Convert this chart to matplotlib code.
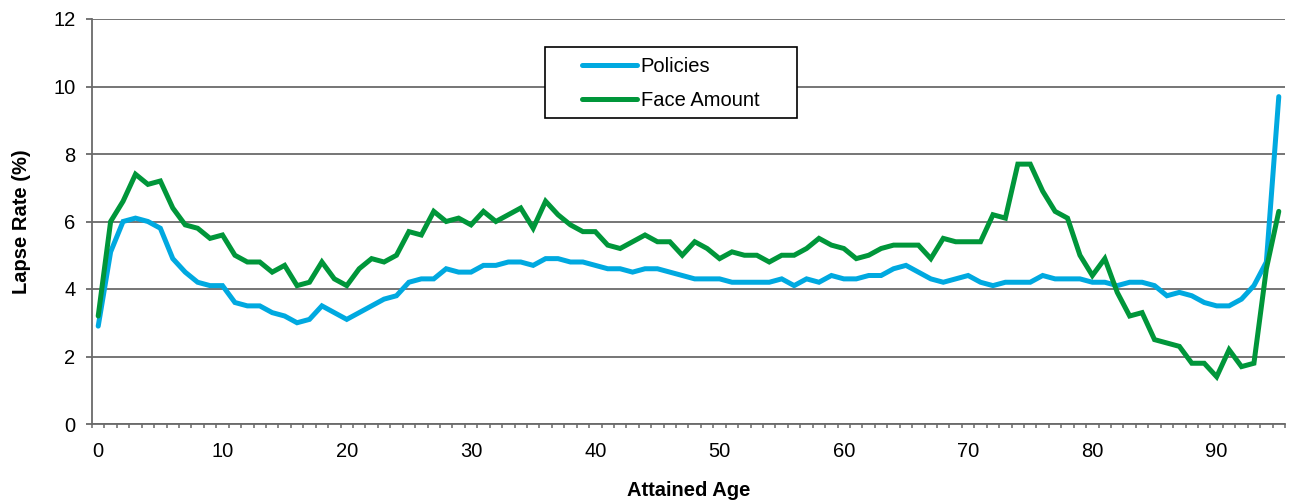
import matplotlib
matplotlib.use("Agg")
import matplotlib.pyplot as plt
from matplotlib.patches import Rectangle
from matplotlib.ticker import MultipleLocator

plt.rcParams['font.family'] = ['Liberation Sans', 'DejaVu Sans']

# Data
ages = list(range(96))
policies = [2.9, 5.1, 6.0, 6.1, 6.0, 5.8, 4.9, 4.5, 4.2, 4.1,
            4.1, 3.6, 3.5, 3.5, 3.3, 3.2, 3.0, 3.1, 3.5, 3.3,
            3.1, 3.3, 3.5, 3.7, 3.8, 4.2, 4.3, 4.3, 4.6, 4.5,
            4.5, 4.7, 4.7, 4.8, 4.8, 4.7, 4.9, 4.9, 4.8, 4.8,
            4.7, 4.6, 4.6, 4.5, 4.6, 4.6, 4.5, 4.4, 4.3, 4.3,
            4.3, 4.2, 4.2, 4.2, 4.2, 4.3, 4.1, 4.3, 4.2, 4.4,
            4.3, 4.3, 4.4, 4.4, 4.6, 4.7, 4.5, 4.3, 4.2, 4.3,
            4.4, 4.2, 4.1, 4.2, 4.2, 4.2, 4.4, 4.3, 4.3, 4.3,
            4.2, 4.2, 4.1, 4.2, 4.2, 4.1, 3.8, 3.9, 3.8, 3.6,
            3.5, 3.5, 3.7, 4.1, 4.8, 9.7]
face_amount = [3.2, 6.0, 6.6, 7.4, 7.1, 7.2, 6.4, 5.9, 5.8, 5.5,
               5.6, 5.0, 4.8, 4.8, 4.5, 4.7, 4.1, 4.2, 4.8, 4.3,
               4.1, 4.6, 4.9, 4.8, 5.0, 5.7, 5.6, 6.3, 6.0, 6.1,
               5.9, 6.3, 6.0, 6.2, 6.4, 5.8, 6.6, 6.2, 5.9, 5.7,
               5.7, 5.3, 5.2, 5.4, 5.6, 5.4, 5.4, 5.0, 5.4, 5.2,
               4.9, 5.1, 5.0, 5.0, 4.8, 5.0, 5.0, 5.2, 5.5, 5.3,
               5.2, 4.9, 5.0, 5.2, 5.3, 5.3, 5.3, 4.9, 5.5, 5.4,
               5.4, 5.4, 6.2, 6.1, 7.7, 7.7, 6.9, 6.3, 6.1, 5.0,
               4.4, 4.9, 3.9, 3.2, 3.3, 2.5, 2.4, 2.3, 1.8, 1.8,
               1.4, 2.2, 1.7, 1.8, 4.6, 6.3]
series_names = ["Policies", "Face Amount"]
series_colors = ["#00A9E0", "#00963A"]

grid_color = "#6a6a6a"
fs = 14.5

fig = plt.figure(figsize=(12.89, 5.01), dpi=100)
ax = fig.add_axes([92 / 1289, 1 - 424 / 501, 1193 / 1289, 405 / 501])

for vals, name, col in zip([policies, face_amount], series_names, series_colors):
    ax.plot(ages, vals, color=col, lw=3.6, label=name, solid_capstyle='round',
            solid_joinstyle='miter', zorder=3)

ax.set_xlim(-0.5, 95.5)
ax.set_ylim(0, 12)
ax.yaxis.set_major_locator(MultipleLocator(2))
ax.xaxis.set_major_locator(MultipleLocator(10))
ax.xaxis.set_minor_locator(MultipleLocator(1, offset=0.5))
ax.grid(axis='y', color=grid_color, lw=1.3, zorder=1)
ax.set_axisbelow(True)

for s in ['top', 'right']:
    ax.spines[s].set_visible(False)
for s in ['left', 'bottom']:
    ax.spines[s].set_color(grid_color)
    ax.spines[s].set_linewidth(1.3)

ax.tick_params(axis='y', direction='out', length=4.3, width=1.3, color=grid_color,
               labelsize=fs, pad=7.5)
ax.tick_params(axis='x', which='major', length=0, labelsize=fs, pad=13)
ax.tick_params(axis='x', which='minor', direction='out', length=3.2, width=1.1,
               color=grid_color)

ax.set_ylabel("Lapse Rate (%)", fontsize=fs, fontweight='bold', labelpad=16)
ax.set_xlabel("Attained Age", fontsize=fs, fontweight='bold', labelpad=14)

# legend frame drawn as a box in axes coordinates
ax.add_patch(Rectangle((0.3797, 0.7556), 0.2113, 0.1753, transform=ax.transAxes,
                       facecolor='white', edgecolor='black', lw=1.2, zorder=4))
ax.legend(loc='upper left', bbox_to_anchor=(0.411, 0.907), frameon=False,
          fontsize=fs, handlelength=2.7, handletextpad=0.2, borderpad=0,
          borderaxespad=0, labelspacing=0.75).set_zorder(5)

fig.savefig("out.png", dpi=100)
